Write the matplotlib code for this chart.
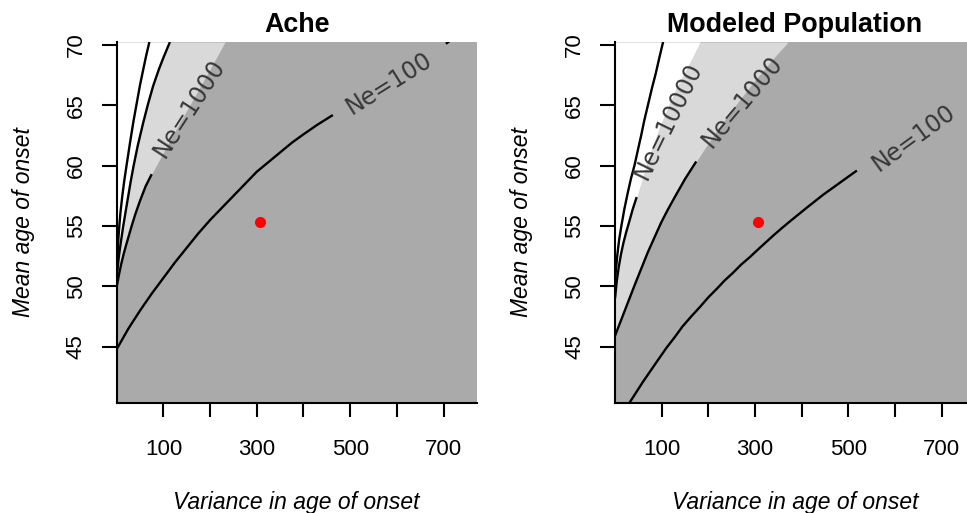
import numpy as np
import matplotlib
matplotlib.use("Agg")
import matplotlib.pyplot as plt

plt.rcParams['font.family'] = ['Liberation Sans', 'DejaVu Sans']

# ---- data (variance, mean age of onset) ----
red_point = (307, 55.3)

ache_ne100_var = [0, 25, 50, 75, 100, 125, 150, 175, 200, 225, 250, 275, 300, 325, 350, 375,
                  400, 430, 463, 500, 550, 590, 625, 665, 705, 712]
ache_ne100_mean = [44.8, 46.5, 48.0, 49.4, 50.7, 52.0, 53.2, 54.4, 55.5, 56.5, 57.5, 58.5, 59.5,
                   60.3, 61.1, 61.9, 62.6, 63.4, 64.2, 65.2, 66.4, 67.4, 68.3, 69.2, 70.1, 70.3]
ache_ne1000_var = [0, 5, 10, 15, 20, 26, 32, 40, 50, 62, 75, 100, 130, 165, 200, 232]
ache_ne1000_mean = [50.0, 51.0, 51.9, 52.7, 53.4, 54.2, 55.0, 56.0, 57.1, 58.3, 59.3, 61.1,
                    63.2, 65.6, 68.0, 70.25]
ache_ne10000_var = [0, 2, 5, 9, 14, 20, 25, 30, 36, 45, 57, 67, 78, 90, 100, 114]
ache_ne10000_mean = [50.5, 51.5, 52.6, 53.7, 55.0, 56.4, 57.55, 58.7, 59.95, 61.65, 63.6, 65.1,
                     66.6, 67.95, 68.95, 70.25]
ache_ne100000_var = [0, 1, 2.5, 4, 5.6, 8, 12, 16, 21, 28.5, 36, 43, 50, 57, 63, 70]
ache_ne100000_mean = [51.0, 52.0, 53.2, 54.2, 55.0, 56.1, 57.5, 58.7, 60.0, 61.9, 63.7, 65.2,
                      66.7, 68.0, 69.1, 70.25]

mod_ne100_var = [30, 45, 60, 76, 92, 110, 128, 145, 163, 182, 200, 218, 235, 252, 270, 288, 306,
                 323, 340, 358, 375, 410, 446, 482, 518, 560, 600, 640, 680, 745, 771]
mod_ne100_mean = [40.3, 41.2, 42.1, 43.0, 43.9, 44.9, 45.8, 46.7, 47.5, 48.3, 49.1, 49.8, 50.5,
                  51.1, 51.8, 52.4, 53.05, 53.65, 54.25, 54.85, 55.4, 56.5, 57.6, 58.6, 59.6,
                  60.6, 61.6, 62.6, 63.5, 65.0, 65.6]
mod_ne1000_var = [0, 14, 28, 42, 56, 70, 85, 99, 113, 128, 150, 174, 197, 220, 245, 270, 295,
                  320, 345, 371]
mod_ne1000_mean = [45.9, 47.3, 48.7, 50.1, 51.45, 52.8, 54.1, 55.3, 56.35, 57.4, 58.9, 60.35,
                   61.7, 63.0, 64.35, 65.6, 66.85, 68.0, 69.15, 70.25]
mod_ne10000_var = [0, 4, 8, 13, 18, 24, 30, 38, 46.4, 55, 65, 80, 97, 115, 132, 150, 166, 182]
mod_ne10000_mean = [49.0, 50.5, 51.6, 52.7, 53.6, 54.5, 55.3, 56.4, 57.4, 58.5, 59.8, 61.6,
                    63.4, 65.0, 66.5, 67.8, 69.0, 70.25]
mod_ne100000_var = [0, 2, 5, 9, 13.6, 20, 27, 34, 42.2, 49, 56, 63, 70.7, 79, 87, 95, 103]
mod_ne100000_mean = [50.3, 51.4, 52.6, 53.9, 55.0, 56.4, 57.7, 58.9, 60.1, 61.3, 62.5, 63.8,
                     65.05, 66.4, 67.6, 68.95, 70.25]

x_ticks = [100, 200, 300, 400, 500, 600, 700]
x_tick_labels = ['100', '', '300', '', '500', '', '700']
y_ticks = [45, 50, 55, 60, 65, 70]

dark = '#aaaaaa'
light = '#d9d9d9'


def draw_panel(ax, title, curves, ne1000, ne10000, labels):
    ax.set_facecolor(dark)
    # shaded bands: light between Ne=1000 and Ne=10000, white beyond
    ax.fill_betweenx(ne1000[1], 0, ne1000[0], color=light, lw=0)
    ax.fill_betweenx(ne10000[1], 0, ne10000[0], color='white', lw=0)

    for v, m, gap in curves:
        v = np.array(v, dtype=float)
        m = np.array(m, dtype=float)
        kw = dict(color='black', lw=1.7, solid_capstyle='butt', solid_joinstyle='round')
        if gap is None:
            ax.plot(v, m, **kw)
        else:
            lo, hi = gap
            a = v <= lo
            b = v >= hi
            ax.plot(v[a], m[a], **kw)
            if b.sum() > 1:
                ax.plot(v[b], m[b], **kw)

    for s, x, y, ang in labels:
        ax.text(x, y, s, rotation=ang, rotation_mode='anchor', ha='center', va='center',
                fontsize=17, color='#383838', family='DejaVu Sans')

    ax.plot([red_point[0]], [red_point[1]], 'o', color='red', ms=8, mec='none')

    ax.set_xlim(0, 771)
    ax.set_ylim(40.34, 70.25)
    for sp in ['top', 'right']:
        ax.spines[sp].set_visible(False)
    for sp in ['left', 'bottom']:
        ax.spines[sp].set_linewidth(1.5)
        ax.spines[sp].set_zorder(5)

    ax.set_xticks(x_ticks)
    ax.set_xticklabels(x_tick_labels)
    ax.set_yticks(y_ticks)
    ax.set_yticklabels([str(t) for t in y_ticks], rotation=90, va='center')
    ax.tick_params(axis='x', direction='out', length=10, width=1.5, pad=16, labelsize=16)
    ax.tick_params(axis='y', direction='out', length=10.5, width=1.5, pad=11, labelsize=16)

    ax.set_title(title, fontsize=19.4, fontweight='bold', pad=7)
    ax.set_xlabel('Variance in age of onset', fontsize=16.5, style='italic')
    ax.set_ylabel('Mean age of onset', fontsize=16.5, style='italic')
    ax.xaxis.set_label_coords(0.5, -0.245)
    ax.yaxis.set_label_coords(-0.227, 0.5)


fig = plt.figure(figsize=(9.67, 5.13), dpi=100)
ax1 = fig.add_axes([116.7 / 967, 110 / 513, 360 / 967, 361 / 513])
ax2 = fig.add_axes([615 / 967, 110 / 513, 360 / 967, 361 / 513])

draw_panel(
    ax1, 'Ache',
    [(ache_ne100_var, ache_ne100_mean, (463, 705)),
     (ache_ne1000_var, ache_ne1000_mean, (75, np.inf)),
     (ache_ne10000_var, ache_ne10000_mean, None),
     (ache_ne100000_var, ache_ne100000_mean, None)],
    (ache_ne1000_var, ache_ne1000_mean),
    (ache_ne10000_var, ache_ne10000_mean),
    [('Ne=100', 584, 66.85, 32), ('Ne=1000', 155, 64.8, 57)])

draw_panel(
    ax2, 'Modeled Population',
    [(mod_ne100_var, mod_ne100_mean, (518, np.inf)),
     (mod_ne1000_var, mod_ne1000_mean, (174, np.inf)),
     (mod_ne10000_var, mod_ne10000_mean, (46.4, np.inf)),
     (mod_ne100000_var, mod_ne100000_mean, None)],
    (mod_ne1000_var, mod_ne1000_mean),
    (mod_ne10000_var, mod_ne10000_mean),
    [('Ne=10000', 113.6, 63.75, 64), ('Ne=1000', 272.6, 65.3, 50), ('Ne=100', 639, 62.3, 36)])

fig.savefig('out.png', dpi=100)
